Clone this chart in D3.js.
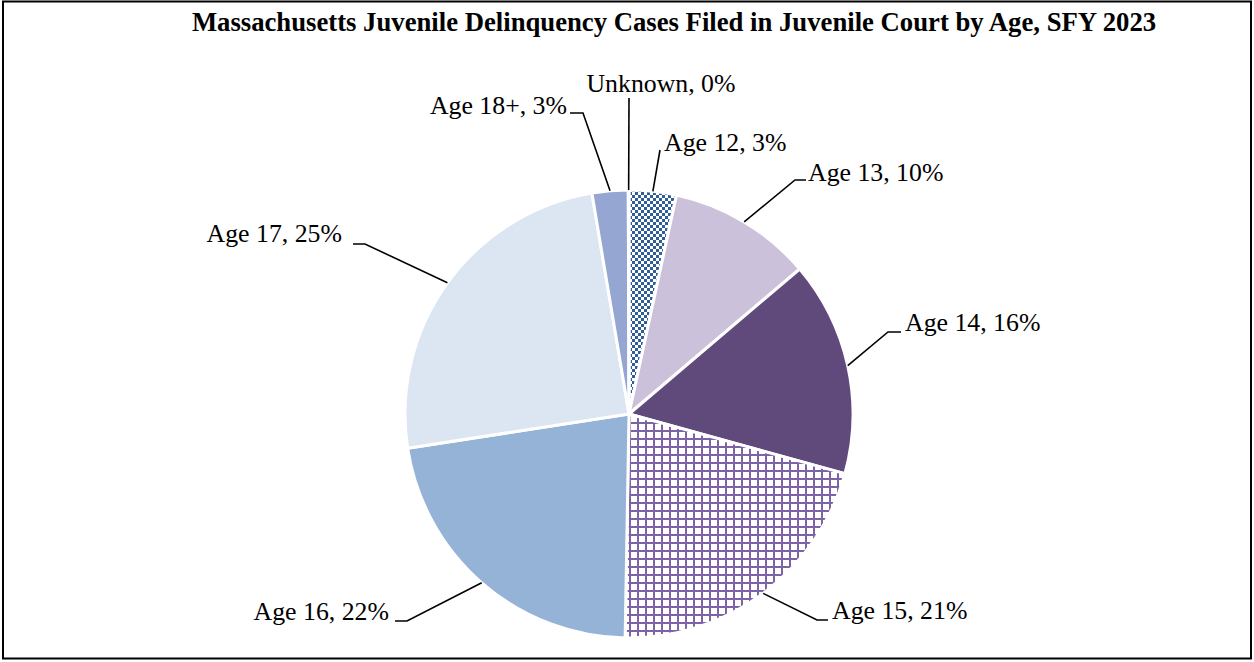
<!DOCTYPE html>
<html>
<head>
<meta charset="utf-8">
<script src="https://cdn.jsdelivr.net/npm/d3@7"></script>
<style>
  html, body { margin: 0; padding: 0; background: #fff; }
  svg { display: block; }
  text { font-family: "Liberation Serif", "Times New Roman", serif; fill: #000; }
</style>
</head>
<body>
<svg id="chart"></svg>
<script>
const width = 1254;
const height = 662;

// data (share of cases, %)
const categories = ["Age 12", "Age 13", "Age 14", "Age 15", "Age 16", "Age 17", "Age 18+", "Unknown"];
const values = [3.4, 10.4, 15.5, 21.0, 22.3, 24.8, 2.6, 0.05];
const labelText = ["Age 12, 3%", "Age 13, 10%", "Age 14, 16%", "Age 15, 21%", "Age 16, 22%", "Age 17, 25%", "Age 18+, 3%", "Unknown, 0%"];

const fills = {
  "Age 12": "url(#checker)",
  "Age 13": "#ccc1da",
  "Age 14": "#604a7b",
  "Age 15": "url(#grid)",
  "Age 16": "#95b3d7",
  "Age 17": "#dce6f2",
  "Age 18+": "#95a6d2",
  "Unknown": "#7f7f7f"
};

// where each label sits and where its leader line bends
const labelLayout = {
  "Age 12":  { x: 664, y: 151, anchor: "start",  elbow: [660, 150], end: [660, 150] },
  "Age 13":  { x: 808, y: 181, anchor: "start",  elbow: [795, 180], end: [806, 180] },
  "Age 14":  { x: 905, y: 331, anchor: "start",  elbow: [888, 332], end: [901, 332] },
  "Age 15":  { x: 832, y: 619, anchor: "start",  elbow: [817, 620], end: [828, 620] },
  "Age 16":  { x: 389, y: 620, anchor: "end",    elbow: [407, 621], end: [395, 621] },
  "Age 17":  { x: 342, y: 242, anchor: "end",    elbow: [365, 244], end: [353, 244] },
  "Age 18+": { x: 567, y: 114, anchor: "end",    elbow: [583, 113], end: [570, 113] },
  "Unknown": { x: 661, y: 92,  anchor: "middle", elbow: [629, 98],  end: [629, 98] }
};

const cx = 629, cy = 414, radius = 224;

const svg = d3.select("#chart")
  .attr("width", width)
  .attr("height", height);

const defs = svg.append("defs");

const checker = defs.append("pattern")
  .attr("id", "checker")
  .attr("patternUnits", "userSpaceOnUse")
  .attr("width", 6)
  .attr("height", 6);
checker.append("rect").attr("width", 6).attr("height", 6).attr("fill", "#fff");
checker.append("rect").attr("width", 3).attr("height", 3).attr("fill", "#2f5d97");
checker.append("rect").attr("x", 3).attr("y", 3).attr("width", 3).attr("height", 3).attr("fill", "#2f5d97");

const grid = defs.append("pattern")
  .attr("id", "grid")
  .attr("patternUnits", "userSpaceOnUse")
  .attr("width", 8)
  .attr("height", 8);
grid.append("rect").attr("width", 8).attr("height", 8).attr("fill", "#fff");
grid.append("rect").attr("width", 8).attr("height", 2).attr("fill", "#7e62a6");
grid.append("rect").attr("width", 2).attr("height", 8).attr("fill", "#7e62a6");

// outer frame
svg.append("rect")
  .attr("x", 3)
  .attr("y", 1.5)
  .attr("width", 1248)
  .attr("height", 657)
  .attr("fill", "none")
  .attr("stroke", "#000")
  .attr("stroke-width", 2);

svg.append("text")
  .attr("x", 674)
  .attr("y", 31)
  .attr("text-anchor", "middle")
  .attr("font-weight", "bold")
  .attr("font-size", 26.7)
  .text("Massachusetts Juvenile Delinquency Cases Filed in Juvenile Court by Age, SFY 2023");

const rows = categories.map((c, i) => ({ name: c, value: values[i], label: labelText[i] }));

const pie = d3.pie()
  .sort(null)
  .value(d => d.value);

const arc = d3.arc()
  .innerRadius(0)
  .outerRadius(radius);

const edge = d3.arc()
  .innerRadius(radius)
  .outerRadius(radius);

const arcs = pie(rows);

const g = svg.append("g").attr("transform", `translate(${cx},${cy})`);

g.selectAll("path")
  .data(arcs)
  .join("path")
  .attr("d", arc)
  .attr("fill", d => fills[d.data.name])
  .attr("stroke", "#fff")
  .attr("stroke-width", 3)
  .attr("stroke-linejoin", "round");

// leader lines
svg.append("g")
  .selectAll("polyline")
  .data(arcs)
  .join("polyline")
  .attr("fill", "none")
  .attr("stroke", "#000")
  .attr("stroke-width", 1.6)
  .attr("points", d => {
    const c = edge.centroid(d);
    const L = labelLayout[d.data.name];
    return [[cx + c[0], cy + c[1]], L.elbow, L.end].map(p => p.join(",")).join(" ");
  });

svg.append("g")
  .selectAll("text")
  .data(arcs)
  .join("text")
  .attr("x", d => labelLayout[d.data.name].x)
  .attr("y", d => labelLayout[d.data.name].y)
  .attr("text-anchor", d => labelLayout[d.data.name].anchor)
  .attr("font-size", 25.8)
  .text(d => d.data.label);
</script>
</body>
</html>
